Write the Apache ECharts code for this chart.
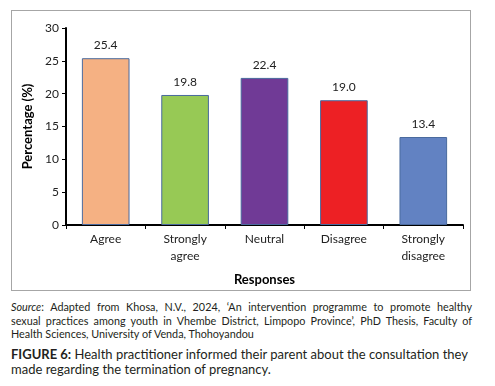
<!DOCTYPE html>
<html lang="en">
<head>
  <meta charset="UTF-8">
  <title>Figure 6</title>
  <style>
    body { margin: 0; background: #fff; }
    #wrap { position: relative; width: 495px; height: 386px; }
    #frame { position: absolute; left: 11px; top: 10px; width: 460px; height: 281px; border: 1px solid #a6a6a6; box-sizing: border-box; }
    #main { position: absolute; left: 0; top: 0; width: 495px; height: 300px; }
    .cap { position: absolute; left: 11px; width: 461px; font-family: Lato, "Open Sans", sans-serif; color: #231f20; }
    #src { top: 300px; font-size: 10.8px; line-height: 13.5px; }
    #src .j { text-align: justify; text-align-last: justify; white-space: nowrap; }
    #fig { top: 347px; font-size: 13px; line-height: 14.5px; }
  </style>
</head>
<body>
  <div id="wrap">
    <div id="frame"></div>
    <div id="main"></div>
    <div class="cap" id="src">
      <div class="j"><i>Source</i>: Adapted from Khosa, N.V., 2024, ‘An intervention programme to promote healthy</div>
      <div class="j">sexual practices among youth in Vhembe District, Limpopo Province’, PhD Thesis, Faculty of</div>
      <div>Health Sciences, University of Venda, Thohoyandou</div>
    </div>
    <div class="cap" id="fig"><b>FIGURE 6:</b> Health practitioner informed their parent about the consultation they made regarding the termination of pregnancy.</div>
  </div>
  <script src="https://cdn.jsdelivr.net/npm/echarts@6/dist/echarts.min.js"></script>
  <script>
    var myChart = echarts.init(document.getElementById('main'))
    var categories = ['Agree', 'Strongly\nagree', 'Neutral', 'Disagree', 'Strongly\ndisagree']
    var values = [25.4, 19.8, 22.4, 19.0, 13.4]
    var colors = ['#f5b183', '#97c955', '#703a96', '#ed2024', '#6282c2']
    var yTicks = [0, 5, 10, 15, 20, 25, 30]

    var barData = []
    for (var i = 0; i < values.length; i++) {
      barData.push({ value: values[i], itemStyle: { color: colors[i] } })
    }

    var font = 'Lato, "Open Sans", sans-serif'

    var options = {
      animation: false,
      grid: { left: 66, right: 32, top: 28, bottom: 75 },
      xAxis: {
        type: 'category',
        data: categories,
        name: 'Responses',
        nameLocation: 'middle',
        nameGap: 48,
        nameTextStyle: { fontFamily: font, fontWeight: 'bold', fontSize: 13, color: '#000' },
        axisLine: { lineStyle: { color: '#000', width: 2 } },
        axisTick: { show: true, length: 4, lineStyle: { color: '#000' } },
        axisLabel: { fontFamily: font, fontSize: 12, color: '#222', lineHeight: 17, margin: 6 }
      },
      yAxis: {
        type: 'value',
        min: yTicks[0],
        max: yTicks[yTicks.length - 1],
        interval: 5,
        name: 'Percentage (%)',
        nameLocation: 'middle',
        nameGap: 32,
        nameTextStyle: { fontFamily: font, fontWeight: 'bold', fontSize: 13, color: '#000' },
        axisLine: { show: true, lineStyle: { color: '#000', width: 2 } },
        axisTick: { show: true, length: 4, lineStyle: { color: '#000' } },
        axisLabel: { fontFamily: font, fontSize: 12, color: '#222', margin: 7 },
        splitLine: { show: false }
      },
      series: [
        {
          type: 'bar',
          data: barData,
          barWidth: '60%',
          itemStyle: { borderColor: '#4a6a9e', borderWidth: 1 },
          label: {
            show: true,
            position: 'top',
            distance: 7,
            fontFamily: font,
            fontSize: 12,
            color: '#222',
            formatter: function (p) { return p.value.toFixed(1) }
          }
        }
      ]
    }

    myChart.setOption(options)
  </script>
</body>
</html>
